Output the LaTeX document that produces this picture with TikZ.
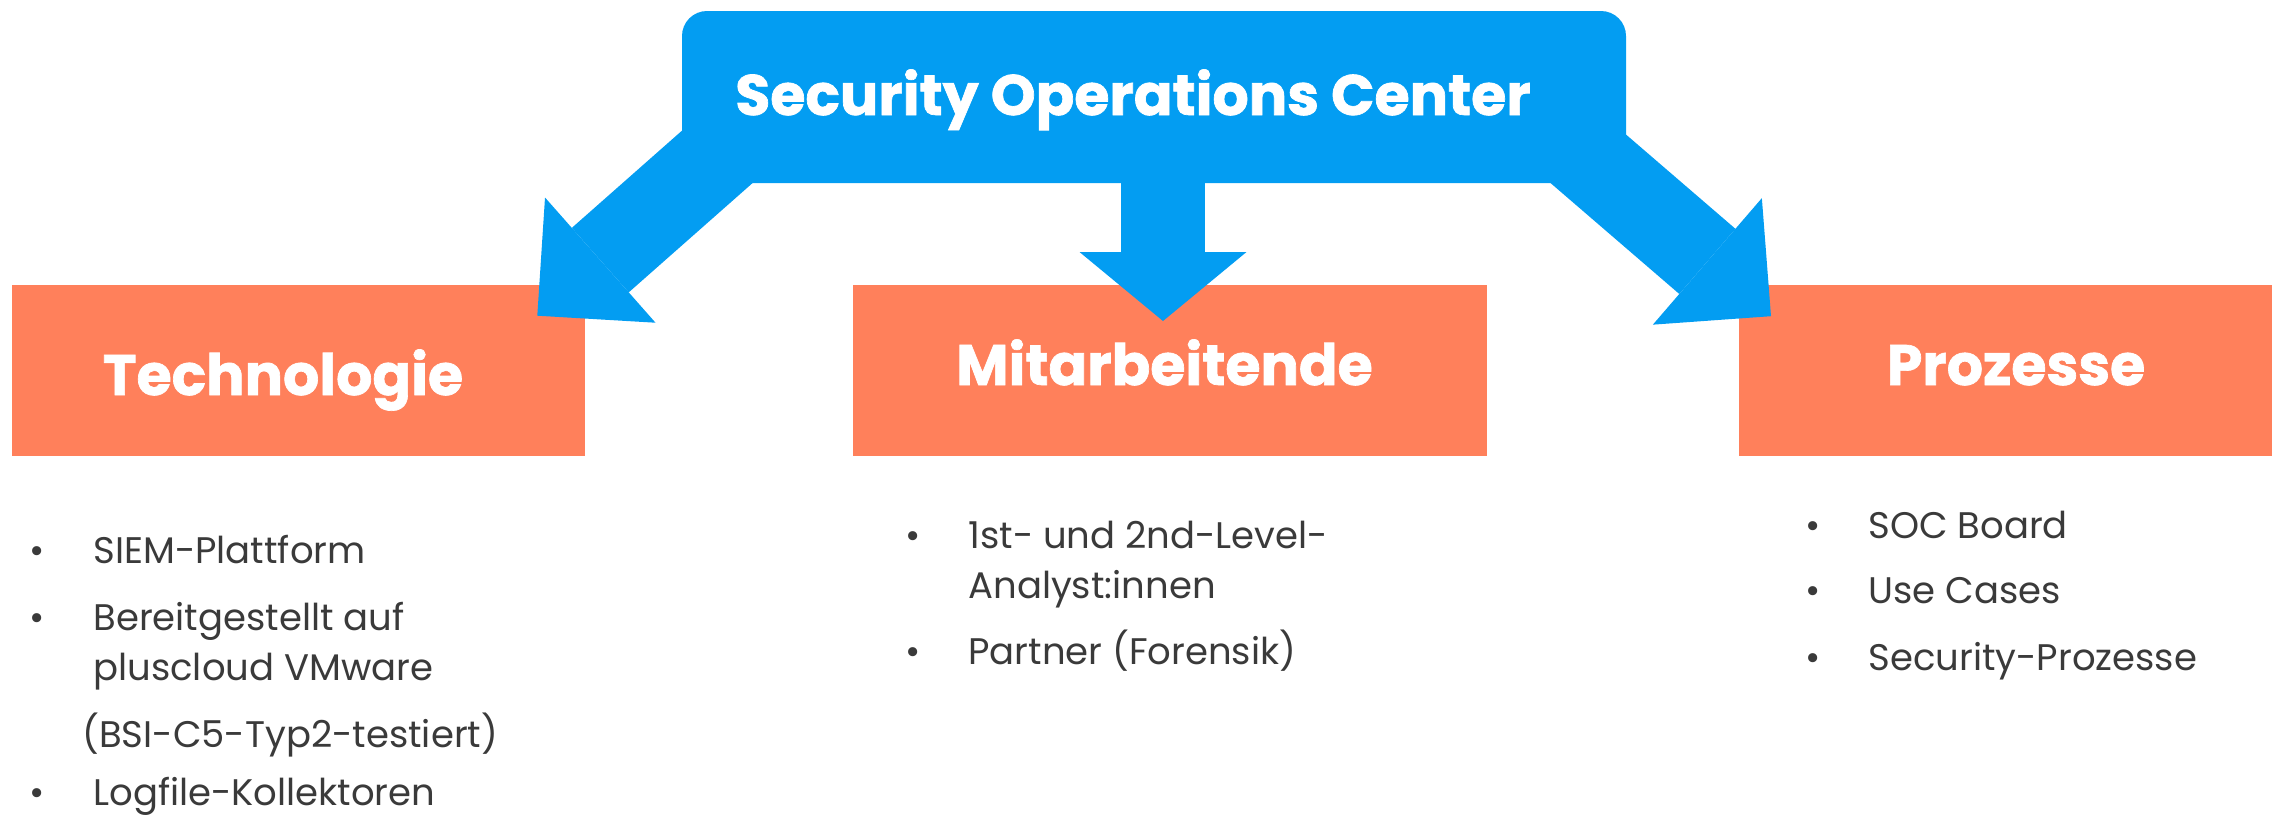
\documentclass[tikz,border=0pt]{standalone}
\usepackage{fontspec}
\setmainfont{Poppins}[BoldFeatures={FakeBold=1.2}]
\usetikzlibrary{arrows.meta,positioning}
\definecolor{socblue}{RGB}{3,157,242}
\definecolor{socorange}{RGB}{255,128,91}
\definecolor{listgray}{RGB}{58,58,58}
\newcommand\pxu{0.5pt}

\begin{document}
\begin{tikzpicture}[%
    x=0.5pt, y=-0.5pt,          % one unit per pixel of the slide, y runs down
    ]
% -------------------------------------------------
% Styles
\tikzset{
  head/.style={font=\fontsize{28.5}{34}\selectfont\bfseries, text=white, inner sep=0pt, anchor=base},
  box/.style={fill=socorange, inner sep=0pt, minimum height=171*\pxu},
  socbox/.style={fill=socblue, rounded corners=12.5pt, inner sep=0pt,
                 minimum width=944*\pxu, minimum height=172*\pxu},
  % block arrows out of the SOC box
  blockarrow/.style={draw=socblue, line width=43pt,
                     -{Triangle[length=42pt, width=83.5pt, line width=0pt]}},
  item/.style={font=\fontsize{18.5}{22}\selectfont, text=listgray, inner sep=0pt, anchor=base west},
  dot/.style={item, anchor=base},
}
\useasboundingbox (0,0) rectangle (2272,816);

% -------------------------------------------------
% The three pillars
\node [box, minimum width=573*\pxu] (techbox) at (298,370.5) {};
\node [box, minimum width=634*\pxu] (mitbox) at (1170,370.5) {};
\node [box, minimum width=533*\pxu] (prozbox) at (2005.5,370.5) {};

% The SOC box with its three arrows
\node [socbox] (socbox) at (1154,97) {};
\coordinate (rootL) at (761.5,117.8);
\coordinate (tipL) at (537.3,315.7);
\coordinate (rootC) at (1163,120);
\coordinate (tipC) at (1163,321);
\coordinate (rootR) at (1543,119.8);
\coordinate (tipR) at (1771,316.2);

\draw[blockarrow] (rootL) -- (tipL);
\draw[blockarrow, line width=42pt, -{Triangle[length=34.5pt, width=83.5pt, line width=0pt]}] (rootC) -- (tipC);
\draw[blockarrow] (rootR) -- (tipR);

% Labels
\node [head] (soc) at (1133,115) {Security Operations Center};
\node [head] (tech) at (283,395) {Technologie};
\node [head] (mit) at (1164.5,385) {Mitarbeitende};
\node [head] (proz) at (2016,385) {Prozesse};

% -------------------------------------------------
% Bullet lists
\foreach \y/\t in {563/SIEM-Plattform, 630/Bereitgestellt auf, 680/pluscloud VMware, 805/Logfile-Kollektoren}
  \node [item] at (93,\y) {\t};
\node [item] (bsi) at (82,747) {(BSI-C5-Typ2-testiert)};
\foreach \y in {563,630,805}
  \node [dot] at (37,\y) {•};

\foreach \y/\t in {548/1st- und 2nd-Level-, 598/Analyst:innen, 664/Partner (Forensik)}
  \node [item] at (968,\y) {\t};
\foreach \y in {548,664}
  \node [dot] at (913,\y) {•};

\foreach \y/\t in {538/SOC Board, 603/Use Cases, 670/Security-Prozesse}
{
  \node [item] at (1868,\y) {\t};
  \node [dot] at (1813,\y) {•};
}
% -------------------------------------------------
\end{tikzpicture}
\end{document}
